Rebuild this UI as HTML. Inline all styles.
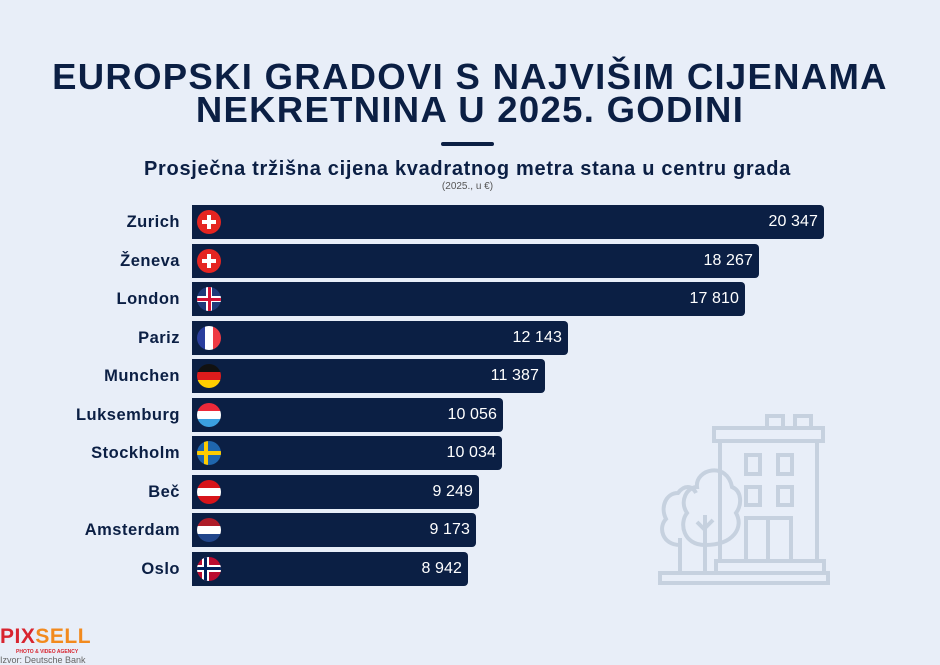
<!DOCTYPE html>
<html><head><meta charset="utf-8"><style>
body{margin:0;width:940px;height:665px;background:#e8eef8;font-family:"Liberation Sans",sans-serif;position:relative;overflow:hidden;color:#0b1f44}
.t{position:absolute;left:0;width:940px;text-align:center;font-weight:bold;font-size:36.5px;letter-spacing:1.3px;line-height:36px}
.lbl{position:absolute;right:760px;font-size:16.5px;font-weight:bold;text-align:right;line-height:20px;letter-spacing:0.5px}
.bar{position:absolute;left:192px;height:34px;background:#0b1f44;border-radius:0 4px 4px 0}
.v{position:absolute;right:6px;top:8px;color:#fff;font-size:16px;line-height:18px;letter-spacing:0.1px}
.f{position:absolute;left:5px;top:5px;width:24px;height:24px;border-radius:50%;overflow:hidden}
</style></head><body>
<div class="t" style="top:59px">EUROPSKI GRADOVI S NAJVIŠIM CIJENAMA</div>
<div class="t" style="top:92px">NEKRETNINA U 2025. GODINI</div>
<div style="position:absolute;left:441px;top:142px;width:53px;height:4px;background:#0b1f44;border-radius:2px"></div>
<div style="position:absolute;left:0;width:935px;top:158px;text-align:center;font-weight:bold;font-size:20px;letter-spacing:0.7px">Prosječna tržišna cijena kvadratnog metra stana u centru grada</div>
<div style="position:absolute;left:0;width:935px;top:181px;text-align:center;font-size:10px;color:#555">(2025., u €)</div>

<svg width="940" height="665" style="position:absolute;left:0;top:0" fill="none" stroke="#c6d1df" stroke-width="4">
<rect x="767" y="416" width="16" height="12"/><rect x="795" y="416" width="16" height="12"/>
<rect x="714" y="428" width="109" height="13"/>
<path d="M720 441V561M817 441V561"/>
<rect x="746" y="455" width="14" height="19"/><rect x="778" y="455" width="14" height="19"/>
<rect x="746" y="487" width="14" height="18"/><rect x="778" y="487" width="14" height="18"/>
<path d="M746 561V518H791V561M768 518V561"/>
<rect x="716" y="561" width="108" height="12"/>
<rect x="660" y="573" width="168" height="10"/>
<path d="M705 545c-22 0-26-22-18-32c-8-12 0-26 10-26c-2-18 30-26 35 0c10 4 10 18 4 26c8 14-2 32-31 32z"/>
<path d="M705 573V515M705 530l-8-8M705 528l8-8"/>
<path d="M680 545c-18 0-22-18-14-26c-6-12 0-26 12-26c6-8 14-8 18 0"/>
<path d="M680 573V538"/>
</svg>

<div id="c"></div>
<script>
var d=[["Zurich","20 347",824,"ch"],["Ženeva","18 267",759,"ch"],["London","17 810",745,"uk"],["Pariz","12 143",568,"fr"],["Munchen","11 387",545,"de"],["Luksemburg","10 056",503,"lu"],["Stockholm","10 034",502,"se"],["Beč","9 249",479,"at"],["Amsterdam","9 173",476,"nl"],["Oslo","8 942",468,"no"]];
function flag(k){
var s={ch:'background:#e52521;',fr:'background:linear-gradient(90deg,#2a3e9c 33%,#fff 33% 66%,#ee3a43 66%)',de:'background:linear-gradient(#111 33%,#dd1c1c 33% 66%,#ffce00 66%)',lu:'background:linear-gradient(#ed2939 33%,#fff 33% 66%,#3ba0e0 66%)',nl:'background:linear-gradient(#ae1c28 33%,#fff 33% 66%,#21468b 66%)',at:'background:linear-gradient(#d7141a 33%,#fff 33% 66%,#d7141a 66%)',se:'background:#1f66ae',no:'background:#ba0c2f',uk:'background:#1f3a7a'}[k];
var inner='';
if(k=='ch')inner='<div style="position:absolute;left:10px;top:5px;width:4px;height:14px;background:#fff"></div><div style="position:absolute;left:5px;top:10px;width:14px;height:4px;background:#fff"></div>';
if(k=='se')inner='<div style="position:absolute;left:7px;top:0;width:4px;height:24px;background:#fecc00"></div><div style="position:absolute;left:0;top:10px;width:24px;height:4px;background:#fecc00"></div>';
if(k=='no')inner='<div style="position:absolute;left:5px;top:0;width:7px;height:24px;background:#fff"></div><div style="position:absolute;left:0;top:8px;width:24px;height:7px;background:#fff"></div><div style="position:absolute;left:7px;top:0;width:3px;height:24px;background:#00205b"></div><div style="position:absolute;left:0;top:10px;width:24px;height:3px;background:#00205b"></div>';
if(k=='uk')inner='<div style="position:absolute;left:9px;top:0;width:6px;height:24px;background:#fff"></div><div style="position:absolute;left:0;top:9px;width:24px;height:6px;background:#fff"></div><div style="position:absolute;left:10.5px;top:0;width:3px;height:24px;background:#d21034"></div><div style="position:absolute;left:0;top:10.5px;width:24px;height:3px;background:#d21034"></div>';
return '<div class="f" style="'+s+'">'+inner+'</div>';}
var h='';
d.forEach(function(r,i){var y=205+i*38.5;
h+='<div class="lbl" style="top:'+(y+7)+'px">'+r[0]+'</div><div class="bar" style="top:'+y+'px;width:'+(r[2]-192)+'px">'+flag(r[3])+'<div class="v">'+r[1]+'</div></div>';});
document.getElementById('c').innerHTML=h;
</script>
<div style="position:absolute;left:0;top:626px;font-weight:bold;font-size:21px;line-height:22px;letter-spacing:0.5px"><span style="color:#d8242f">PIX</span><span style="color:#f28a1e">SELL</span></div>
<div style="position:absolute;left:16px;top:649px;font-size:5px;font-weight:bold;color:#d8242f">PHOTO &amp; VIDEO AGENCY</div>
<div style="position:absolute;left:0;top:655px;font-size:9px;color:#666">Izvor: Deutsche Bank</div>
</body></html>
